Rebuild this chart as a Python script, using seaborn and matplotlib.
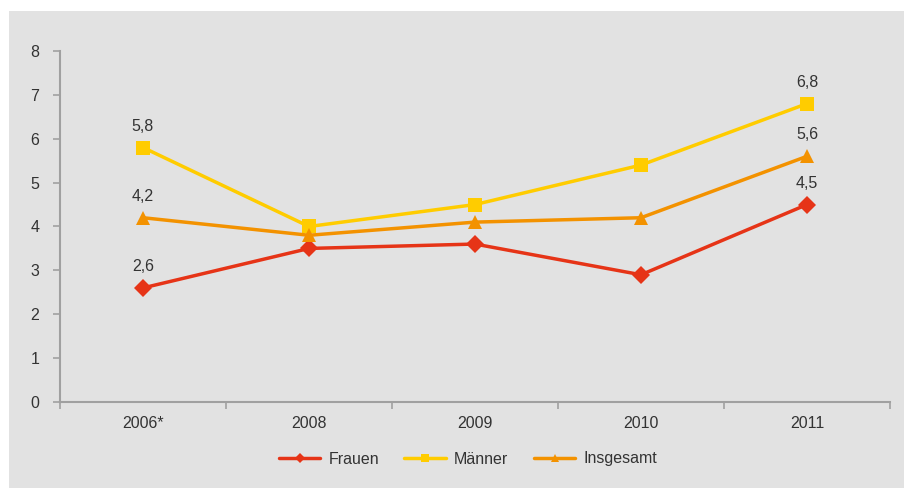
import matplotlib
matplotlib.use("Agg")
import matplotlib.pyplot as plt
from matplotlib.ticker import FixedLocator, NullFormatter, FixedFormatter
import seaborn as sns
import pandas as pd

years = ["2006*", "2008", "2009", "2010", "2011"]
frauen = [2.6, 3.5, 3.6, 2.9, 4.5]
maenner = [5.8, 4.0, 4.5, 5.4, 6.8]
insgesamt = [4.2, 3.8, 4.1, 4.2, 5.6]

series_names = ["Frauen", "Männer", "Insgesamt"]
colors = {"Frauen": "#e63417", "Männer": "#ffcc00", "Insgesamt": "#f39200"}
marker_map = {"Frauen": "D", "Männer": "s", "Insgesamt": "^"}
marker_sizes = {"Frauen": 9, "Männer": 10, "Insgesamt": 9.5}

rows = []
for name, vals in zip(series_names, [frauen, maenner, insgesamt]):
    for i, (yr, v) in enumerate(zip(years, vals)):
        rows.append({"pos": i, "Jahr": yr, "Wert": v, "Gruppe": name})
df = pd.DataFrame(rows)

sns.set_theme(style="white")
plt.rcParams["font.family"] = ["Liberation Sans", "DejaVu Sans"]

FS = 11.5
TXT = "#333333"
AXC = "#a0a0a0"

fig = plt.figure(figsize=(9.05, 4.88), dpi=100)
fig.patch.set_facecolor("white")
W, H = 905, 488

# grey panel behind the chart
bg_ax = fig.add_axes([9 / W, 0, (904 - 9) / W, (488 - 11) / H], zorder=-5)
bg_ax.set_facecolor("#e2e2e2")
bg_ax.set_xticks([])
bg_ax.set_yticks([])
for s in bg_ax.spines.values():
    s.set_visible(False)

ax = fig.add_axes([60 / W, (H - 402) / H, (890 - 60) / W, (402 - 51) / H], zorder=1)
ax.set_facecolor("none")

# draw each series with its own marker size
for name in series_names:
    sub = df[df["Gruppe"] == name]
    sns.lineplot(data=sub, x="pos", y="Wert", ax=ax, color=colors[name],
                 marker=marker_map[name], markersize=marker_sizes[name],
                 markeredgewidth=0, linewidth=3, label=name, zorder=3)

# value labels at the first and last year
for name, vals in zip(series_names, [frauen, maenner, insgesamt]):
    for i in (0, len(years) - 1):
        ax.annotate(f"{vals[i]:.1f}".replace(".", ","), (i, vals[i]),
                    xytext=(0, 10), textcoords="offset points",
                    ha="center", va="bottom", fontsize=FS, color=TXT)

ax.set_xlim(-0.5, len(years) - 0.5)
ax.set_ylim(0, 8)
ax.set_yticks(range(0, 9))
ax.set_yticklabels([str(v) for v in range(0, 9)])

ax.xaxis.set_major_locator(FixedLocator([i - 0.5 for i in range(len(years) + 1)]))
ax.xaxis.set_major_formatter(NullFormatter())
ax.xaxis.set_minor_locator(FixedLocator(list(range(len(years)))))
ax.xaxis.set_minor_formatter(FixedFormatter(years))
ax.tick_params(axis="x", which="major", bottom=True, length=5, width=1.2,
               color=AXC, direction="out")
ax.tick_params(axis="x", which="minor", bottom=True, length=0, pad=10,
               labelsize=FS, labelcolor=TXT)
ax.tick_params(axis="y", which="major", left=True, length=5, width=1.2, color=AXC,
               direction="out", pad=10, labelsize=FS, labelcolor=TXT)
ax.set_xlabel("")
ax.set_ylabel("")

for side in ("top", "right"):
    ax.spines[side].set_visible(False)
for side in ("left", "bottom"):
    ax.spines[side].set_color(AXC)
    ax.spines[side].set_linewidth(1.5)

handles, labels = ax.get_legend_handles_labels()
for h in handles:
    h.set_linewidth(2.5)
ax.legend(handles, labels, loc="center", bbox_to_anchor=(0.517, (H - 459) / H),
          bbox_transform=fig.transFigure, ncol=3, frameon=False, fontsize=FS,
          handlelength=2.6, columnspacing=1.6, handletextpad=0.5,
          markerscale=0.55, labelcolor=TXT)

fig.savefig("out.png", dpi=100, facecolor=fig.get_facecolor())
